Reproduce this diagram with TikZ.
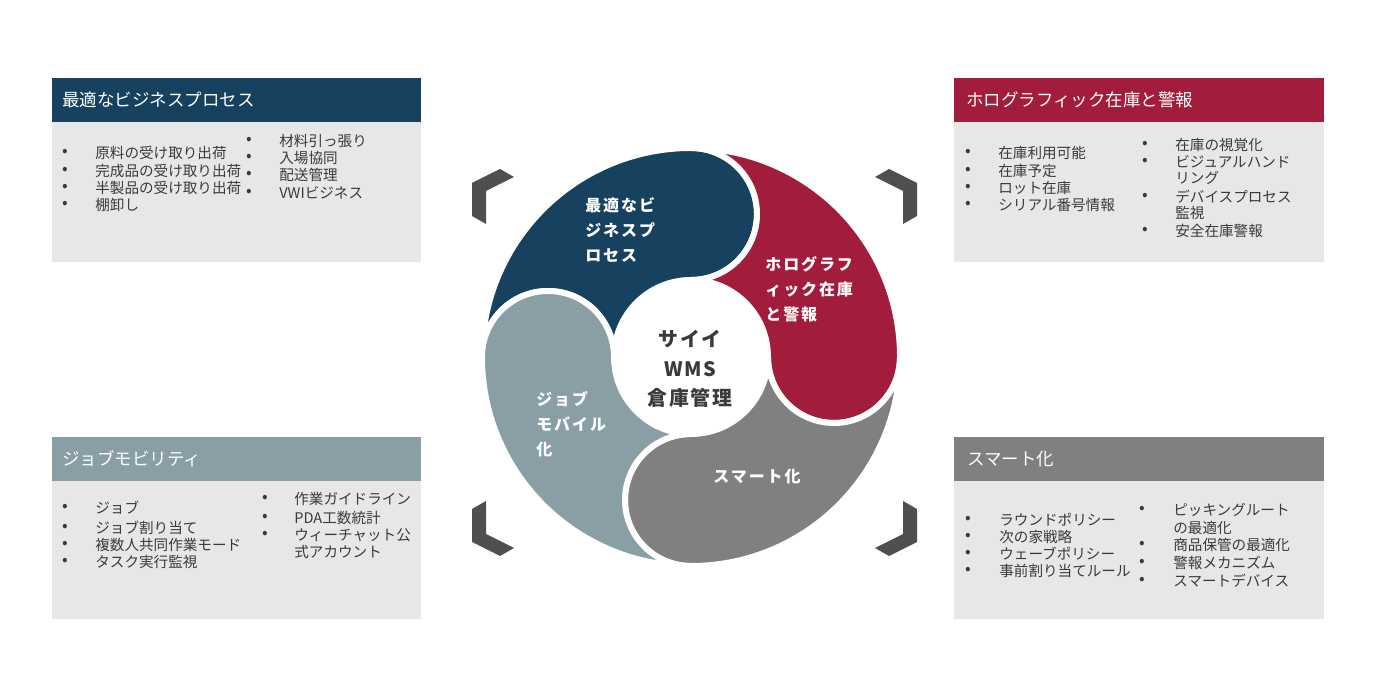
\documentclass[tikz,border=0pt]{standalone}
\usepackage{fontspec}
\setmainfont{Noto Sans CJK JP}

\definecolor{wmsblue}{RGB}{22,66,95}
\definecolor{wmsred}{RGB}{162,28,59}
\definecolor{wmsslate}{RGB}{138,158,166}
\definecolor{wmsgray}{RGB}{128,128,128}
\definecolor{boxbg}{RGB}{231,231,231}
\definecolor{chevgray}{RGB}{79,79,79}
\definecolor{txtgray}{RGB}{58,58,58}

\begin{document}
\begin{tikzpicture}[
    x=0.02cm, y=0.02cm,
    head/.style={anchor=west, text=white, inner sep=0pt, font=\fontsize{9.95}{11}\selectfont},
    item/.style={anchor=west, text=txtgray, inner sep=0pt, font=\fontsize{8.3}{10}\selectfont},
    bulletdot/.style={text=txtgray, inner sep=0pt, font=\fontsize{9.5}{10}\selectfont},
    seglabel/.style={anchor=west, text=white, inner sep=0pt, align=left,
        font=\fontsize{9.1}{14.2}\selectfont\bfseries\addfontfeatures{LetterSpace=12}},
    corelabel/.style={text=txtgray, inner sep=0pt, align=center,
        font=\fontsize{11.3}{16.7}\selectfont\bfseries\addfontfeatures{LetterSpace=8}},
    chev/.style={fill=chevgray}
]
    \useasboundingbox (0,0) rectangle (1380,700);

    % Boxes
    \fill[wmsblue] (52,578) rectangle (421,622);
    \fill[boxbg] (52,438) rectangle (421,578);
    \fill[wmsred] (954,578) rectangle (1324,622);
    \fill[boxbg] (954,438) rectangle (1324,578);
    \fill[wmsslate] (52,219) rectangle (421,263);
    \fill[boxbg] (52,81) rectangle (421,219);
    \fill[wmsgray] (954,219) rectangle (1324,263);
    \fill[boxbg] (954,81) rectangle (1324,219);

    \node[head] (bizhead) at (62,600) {最適なビジネスプロセス};
    \node[head] (holohead) at (966,600) {ホログラフィック在庫と警報};
    \node[head] (jobhead) at (62,241) {ジョブモビリティ};
    \node[head] (smarthead) at (967,241) {スマート化};

    % Lists - top left
    \foreach \y in {547,529,512,495} \node[bulletdot] (bizdot-\y) at (65,\y) {•};
    \foreach \y/\t in {547/原料の受け取り出荷, 529/完成品の受け取り出荷, 512/半製品の受け取り出荷, 495/棚卸し}
        \node[item] (biz-\y) at (95,\y) {\t};
    \foreach \y in {559,542,525,507} \node[bulletdot] (bizdotb-\y) at (249,\y) {•};
    \foreach \y/\t in {559/材料引っ張り, 542/入場協同, 525/配送管理, 507/VWIビジネス}
        \node[item] (bizb-\y) at (279,\y) {\t};

    % Lists - top right
    \foreach \y in {547,529,512,495} \node[bulletdot] (holodot-\y) at (968,\y) {•};
    \foreach \y/\t in {547/在庫利用可能, 529/在庫予定, 512/ロット在庫, 495/シリアル番号情報}
        \node[item] (holo-\y) at (998,\y) {\t};
    \foreach \y in {555,538,503,469} \node[bulletdot] (holodotb-\y) at (1145,\y) {•};
    \foreach \y/\t in {555/在庫の視覚化, 538/ビジュアルハンド, 522/リング, 503/デバイスプロセス, 487/監視, 469/安全在庫警報}
        \node[item] (holob-\y) at (1175,\y) {\t};

    % Lists - bottom left
    \foreach \y in {192,172,155,138} \node[bulletdot] (jobdot-\y) at (65,\y) {•};
    \foreach \y/\t in {192/ジョブ, 172/ジョブ割り当て, 155/複数人共同作業モード, 138/タスク実行監視}
        \node[item] (job-\y) at (95,\y) {\t};
    \foreach \y in {201,182,165} \node[bulletdot] (jobdotb-\y) at (265,\y) {•};
    \foreach \y/\t in {201/作業ガイドライン, 182/PDA工数統計, 165/ウィーチャット公, 148/式アカウント}
        \node[item] (jobb-\y) at (294,\y) {\t};

    % Lists - bottom right
    \foreach \y in {180,163,146,129} \node[bulletdot] (smartdot-\y) at (968,\y) {•};
    \foreach \y/\t in {180/ラウンドポリシー, 163/次の家戦略, 146/ウェーブポリシー, 129/事前割り当てルール}
        \node[item] (smart-\y) at (999,\y) {\t};
    \foreach \y in {190,155,137,119} \node[bulletdot] (smartdotb-\y) at (1142,\y) {•};
    \foreach \y/\t in {190/ピッキングルート, 172/の最適化, 155/商品保管の最適化, 137/警報メカニズム, 119/スマートデバイス}
        \node[item] (smartb-\y) at (1173,\y) {\t};

    % Corner chevrons
    \foreach \sx/\sy in {1/1, -1/1, 1/-1, -1/-1}
        \fill[chev, shift={(694.5,337.5)}, xscale=\sx, yscale=\sy]
            (-222.5,179.5) -- (-194.5,193.5) -- (-180.5,185.5) -- (-208.5,171.5)
            -- (-208.5,138.5) -- (-222.5,146.5) -- cycle;

    % Wheel segments: quarter band, round head, round notch
    \begin{scope}[shift={(691,343)}]
        \foreach \th/\col in {90/wmsblue, 0/wmsred, -90/wmsgray, 180/wmsslate}
            \filldraw[fill=\col, draw=white, line width=3.4pt, line join=round]
                ({\th+90}:209) arc[start angle={\th+90}, end angle=\th, radius=209]
                arc[start angle=\th, end angle={\th-180}, radius=66]
                arc[start angle=\th, end angle={\th+90}, radius=77]
                arc[start angle={\th-90}, end angle={\th+90}, radius=66]
                -- cycle;
    \end{scope}

    % Wheel labels
    \node[seglabel] (bizlbl) at (585,470) {最適なビ\\ジネスプ\\ロセス};
    \node[seglabel] (hololbl) at (765,411) {ホログラフ\\ィック在庫\\と警報};
    \node[seglabel] (joblbl) at (536,276) {ジョブ\\モバイル\\化};
    \node[seglabel, anchor=center] (smartlbl) at (757,223) {スマート化};
    \node[corelabel] (wmscore) at (690,331) {サイイ\\WMS\\倉庫管理};

\end{tikzpicture}
\end{document}
